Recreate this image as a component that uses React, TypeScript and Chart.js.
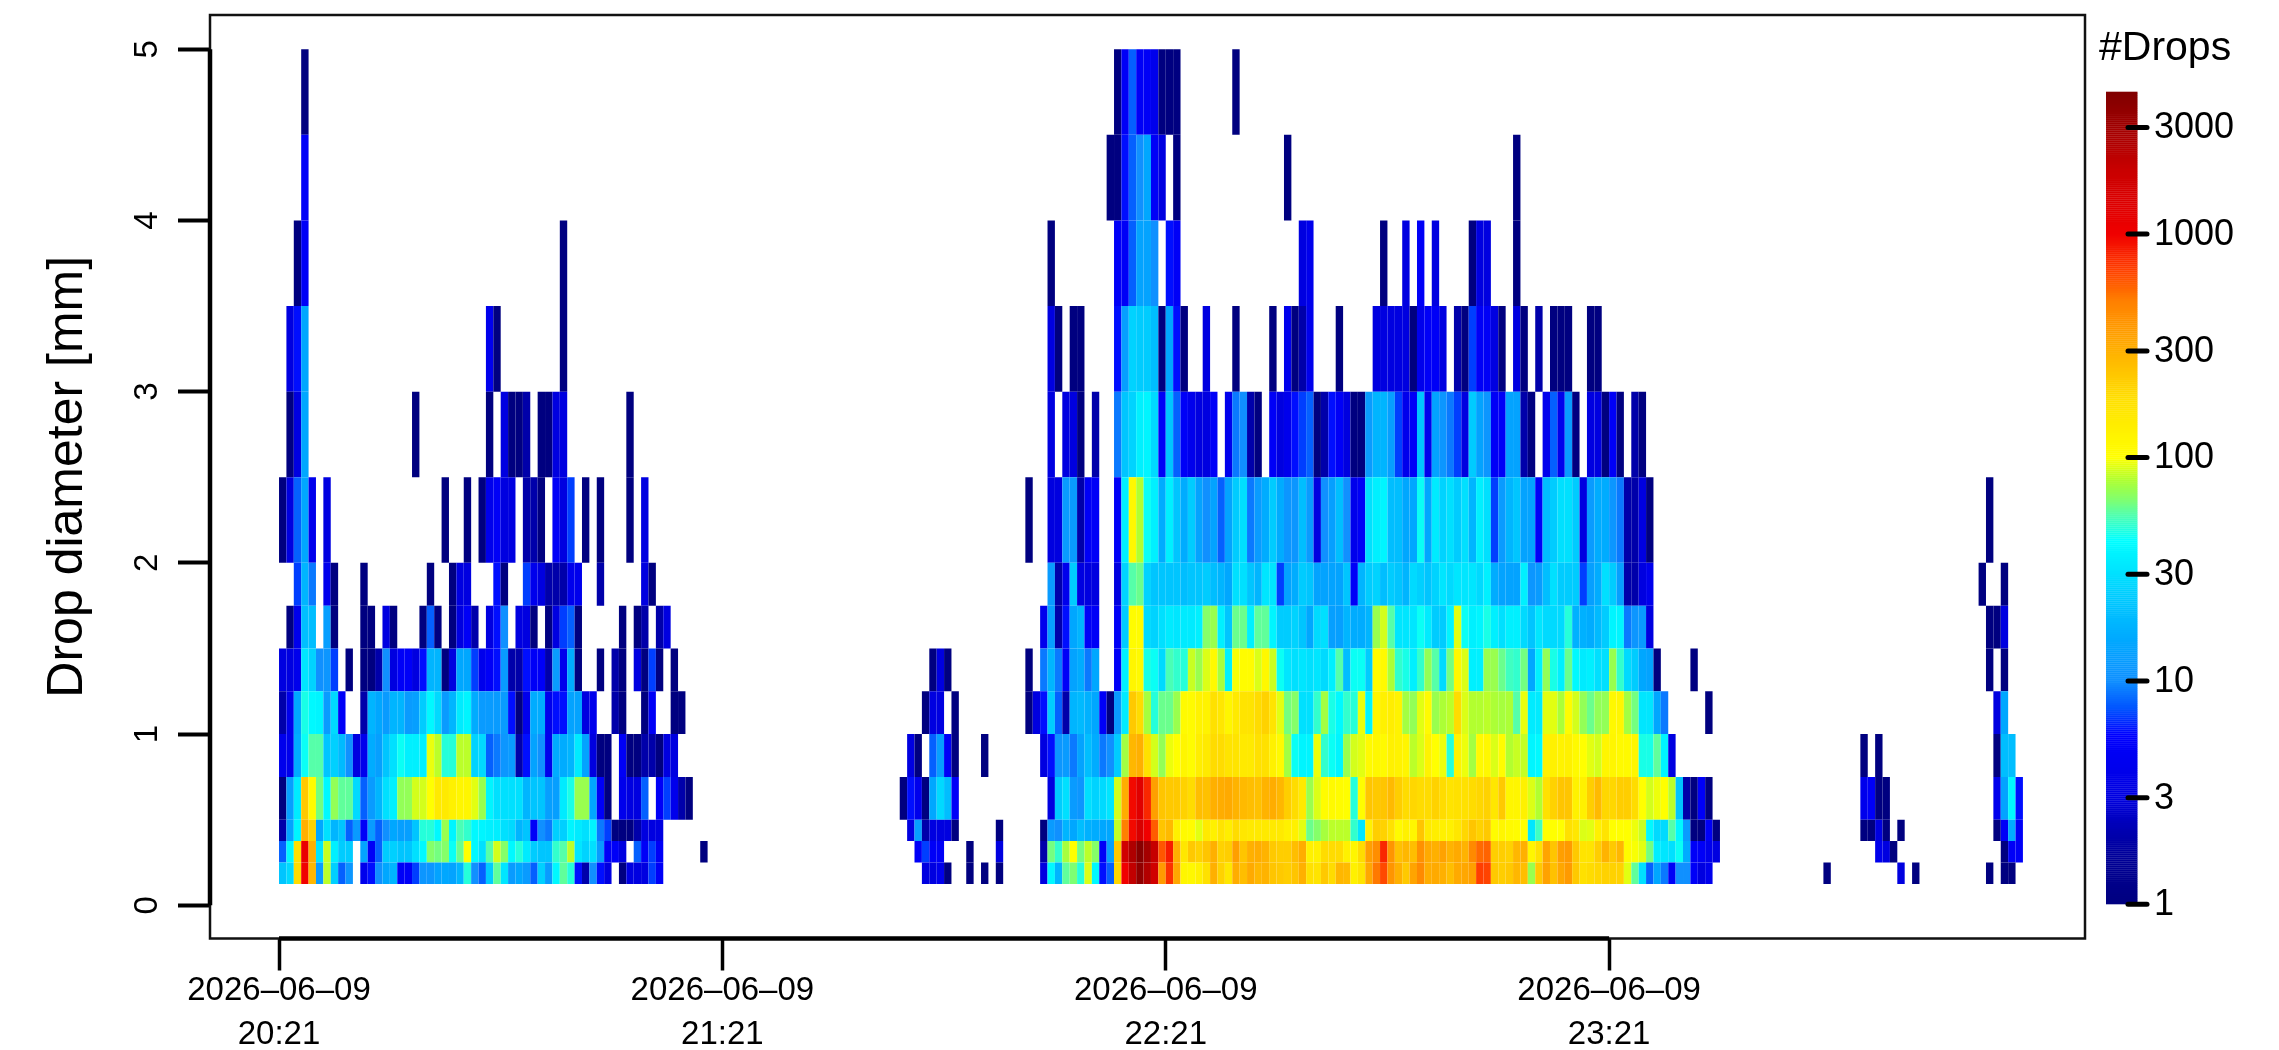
import React, { useEffect, useRef } from "react";
import { Chart, registerables } from "chart.js";

Chart.register(...registerables);

const FONT = '"Liberation Sans", Arial, sans-serif';

// Diameter class edges in mm (15 rows)
const diameterEdges = [0.125, 0.25, 0.375, 0.5, 0.75, 1, 1.25, 1.5, 1.75, 2, 2.5, 3, 3.5, 4, 4.5, 5];

// Drop counts per diameter class: [first minute after 20:21, counts per minute], 0 = no drops
const row0 = [
  [0, [22,28,190,1000,280,12,82,25,8,11,0,4,6,10,15,18,5,5,7,11,11,14,15,14,18,48,10,8,24,58,32,12,15,12,8,25,12,40,58,48,6,2,10,6,3,0,1,3,3,3,7,5]],
  [87, [3,3,4,1]], [93, [1,0,1,0,1]],
  [103, [3,40,18,58,64,48,90,40,6,8,200,1000,2100,3600,2500,1700,380,750,330,120,115,130,180,300,210,160,310,260,320,280,290,240,230,220,240,300,180,170,230,190,280,270,130,170]],
  [147, [330,520,660,400,300,230,340,450,310,320,300,260,320,330,360,700,680,230,220,230,280,260,72,230,350,250,330,380,230,180,190,200,210,210,210,92,58,30,8,15,9,5,10,10,5,3,4]],
  [209, [1]], [219, [3,0,1]], [231, [1,0,1,1]],
];
const row1 = [
  [0, [8,40,180,1100,300,32,85,36,24,24,0,14,5,8,24,25,22,22,30,40,66,62,66,44,60,100,40,30,56,88,66,40,48,34,24,22,22,50,56,82,32,26,30,12,5,5,3,0,8,5,7,5]],
  [57, [1]], [86, [5,7,5,5]], [93, [1]], [97, [3]],
  [103, [2,62,50,76,100,62,82,66,5,13,230,1700,2600,4000,2900,2000,620,850,300,160,230,210,240,300,210,220,360,240,300,310,290,230,220,220,260,310,130,130,190,190,190,130,120]],
  [146, [190,360,430,800,400,250,280,260,420,320,300,350,290,320,290,450,560,580,220,220,210,280,300,120,180,340,240,360,380,230,170,170,220,290,230,280,105,98,92,62,35,32,30,44,16,5,5,4,3]],
  [216, [4,3,1]], [233, [1,5,5]],
];
const row2 = [
  [0, [2,14,38,300,210,15,30,18,22,8,12,5,12,8,10,15,13,13,22,48,48,40,72,38,54,50,40,38,36,35,30,28,18,22,5,10,9,25,25,38,34,30,38,9,7,1,1,1,2,3,3,3]],
  [85, [3,13,2,3,3,3,1]], [97, [1]],
  [103, [1,12,10,18,15,20,17,16,15,15,84,500,950,1500,1000,600,240,270,130,110,105,92,150,130,170,140,190,160,150,150,150,150,150,130,130,92,60,66,76,82,82,82,50]],
  [146, [32,130,220,210,180,110,130,120,240,150,140,130,130,160,200,240,210,230,105,120,110,105,100,32,52,100,100,100,180,160,90,92,130,170,100,100,100,95,85,40,28,28,56,40,12,1,1,5,1]],
  [214, [1,1,3,1,0,1]], [232, [1,5,16,5]],
];
const row3 = [
  [0, [1,13,34,230,105,62,40,70,58,58,28,8,12,18,30,36,70,70,88,88,100,150,150,130,120,120,92,72,38,30,30,30,30,18,22,22,13,13,34,46,72,72,15,5,1,0,4,3,3,8,0,5,7,4,2,1]],
  [84, [1,6,4,1,15,28,20,5]],
  [104, [3,24,30,12,11,30,26,28,32,88,310,950,1300,800,360,240,230,230,210,190,260,250,300,310,320,290,270,260,250,290,310,280,220,190,150,72,90,105,110,105,102,48,105]],
  [147, [240,230,240,270,220,190,200,190,190,210,190,170,180,180,190,200,210,160,230,120,120,130,90,80,180,210,240,240,130,130,220,270,200,200,220,220,190,100,88,95,100,82,22,2,1,5,1]],
  [214, [4,5,1,1]], [232, [4,14,40,6]],
];
const row4 = [
  [0, [4,4,16,44,56,56,22,25,19,10,3,4,16,13,22,30,44,36,36,36,94,82,48,48,82,82,26,28,8,9,11,12,2,6,14,10,4,16,16,18,34,14,3,1,1,0,5,1,1,2,2,1,3,3]],
  [85, [3,1,0,8,13,5,1]], [95, [1]],
  [103, [3,6,11,12,9,14,20,16,9,10,24,75,280,300,180,88,70,95,100,120,105,140,150,190,190,170,170,150,150,180,180,130,110,75,44,38,38,95,50,44,38,72,88,92]],
  [147, [110,115,110,130,125,120,82,90,125,100,95,48,125,95,75,110,115,90,105,80,85,84,38,40,130,130,125,130,110,100,92,88,120,120,110,110,120,46,46,58,38,3]],
  [214, [1,0,1]], [232, [1,20,20]],
];
const row5 = [
  [0, [2,4,15,46,40,38,12,28,5,0,0,2,18,15,12,18,18,12,13,24,40,28,12,18,34,38,16,12,12,12,12,6,1,4,16,16,4,6,6,14,14,3,4,0,0,2,1,0,0,1,5,0,0,1,1]],
  [87, [1,3,3,0,1]],
  [101, [1,3,6,24,8,2,18,19,17,15,5,1,12,34,230,190,76,48,60,60,72,110,108,125,125,180,160,120,150,170,170,190,210,170,92,62,66,30,30,50,75,46,40,50,48,94]],
  [147, [38,120,130,140,125,75,70,92,108,72,78,82,190,90,80,80,82,78,76,78,56,94,34,34,92,92,78,105,88,70,60,70,70,115,120,75,62,32,32,15,9]],
  [193, [1]], [232, [3,15]],
];
const row6 = [
  [0, [3,3,4,32,26,10,11,7,0,1,0,1,1,2,10,3,5,5,3,6,18,18,1,3,15,15,7,4,5,6,12,2,2,6,5,5,2,12,4,16,1,0,0,1,0,2,1,0,3,1,7,1,0,1]],
  [88, [1,3,1]], [101, [1]],
  [103, [9,18,9,5,14,16,9,15,0,0,5,36,120,110,46,44,28,54,50,48,85,72,90,110,76,36,98,105,105,90,115,86,44,32,30,32,30,32,28,36,56,20,44,44]],
  [147, [24,105,110,78,50,46,36,50,70,56,28,62,115,90,36,36,72,72,60,52,50,62,15,36,70,46,36,60,40,34,36,30,30,72,50,28,24,15,14,1]],
  [191, [1]], [231, [1,0,1]],
];
const row7 = [
  [1, [1,4,20,20,0,13,1]], [11, [1,1,0,3,1]],
  [19, [1,8,1,0,1,3,5,2,0,3,6,10,0,3,3,1,0,1,3,7,8,1]],
  [46, [1,0,1,2,0,2,3]],
  [103, [4,13,2,6,15,18,5,5,0,0,5,24,105,105,28,26,30,34,32,34,34,36,66,72,36,22,60,60,36,58,58,38,24,24,26,22,15,28,30,13,13,18,16,16]],
  [147, [18,72,88,56,32,32,32,44,34,24,24,38,92,44,36,38,46,36,30,36,36,28,22,32,28,28,28,48,17,17,16,19,24,38,38,9,11,12,3]],
  [231, [1,1,3]],
];
const row8 = [
  [2, [7,18,9,0,4,1]], [11, [1]], [20, [1]], [23, [1,3,3]], [29, [6,1]], [33, [7,4,3,2,2,2,4,4]], [43, [2]], [49, [3,1]],
  [104, [12,2,4,24,3,3,3,0,0,3,26,56,60,26,22,22,22,22,20,22,22,24,20,18,15,30,30,22,18,32,32,7,14,16,24,22,14,14,14,14,22,5,18]],
  [147, [24,26,20,24,22,18,28,25,22,26,32,28,32,32,32,28,36,16,14,14,14,36,11,12,20,30,24,24,24,7,13,16,30,24,13,2,2,3,4]],
  [230, [1,0,0,1]],
];
const row9 = [
  [0, [1,3,8,15,4,0,3]],
  [22, [1,0,0,1,0,1,4,5,3,3,0,2,2,1,0,5,3,7,0,1,0,1]],
  [47, [1,0,3]], [101, [1]],
  [104, [3,3,12,12,2,5,5,0,0,5,36,115,80,44,36,16,36,22,16,24,14,10,14,8,14,24,30,9,12,16,24,16,11,11,20,12,3,10,13,20,10,4,5]],
  [147, [30,36,38,20,20,15,15,44,15,34,26,30,24,30,18,36,30,7,12,18,22,14,14,5,20,24,30,30,24,3,12,16,16,11,9,2,2,3,1]],
  [231, [1]],
];
const row10 = [
  [1, [1,3,15]], [18, [1]], [28, [1,0,3,1,1,2,0,1,1,3,3]], [47, [1]],
  [104, [3,0,3,3,1,0,2,0,0,9,22,26,36,38,28,5,22,8,5,4,3,3,5,0,4,9,10,2,1,0,5,3,4,6,7,8,1,2,6,5,3,1,1]],
  [147, [12,18,18,13,7,4,5,22,4,14,11,9,7,3,24,14,11,5,5,14,14,2,1,0,4,8,4,12,1,0,3,3,1,5,1,0,2,1]],
];
const row11 = [
  [1, [3,6,15]], [28, [4,1]], [38, [1]], [104, [3,1,0,1,1]],
  [113, [6,13,26,24,24,20,1,15,6,1]], [125, [3]], [129, [1]], [134, [1,0,4,1,2,4]], [143, [1]],
  [148, [3,3,3,3,3,1,4,5,5,3,0,2,1,7,5,5,3,1,0,3,1,0,2,0,1,1,1]], [177, [1,1]],
];
const row12 = [
  [2, [1,5]], [38, [1]], [104, [1]], [113, [5,5,8,14,14,10,0,6,5]], [138, [3,4]], [149, [1]], [152, [3,0,5,0,3]], [161, [1,3,3]], [167, [1]],
];
const row13 = [[3, [5]], [112, [1,1,6,8,10,15,5,3,0,1]], [136, [1]], [167, [1]]];
const row14 = [[3, [1]], [113, [1,5,8,5,5,4,1,1,1]], [129, [1]]];
const rows: any[] = [row0, row1, row2, row3, row4, row5, row6, row7, row8, row9, row10, row11, row12, row13, row14];

// Axes
const xTickMinutes = [0, 60, 120, 180];
const xTickDates = ["2026–06–09", "2026–06–09", "2026–06–09", "2026–06–09"];
const xTickTimes = ["20:21", "21:21", "22:21", "23:21"];
const yTicks = [0, 1, 2, 3, 4, 5];
const yTitle = "Drop diameter [mm]";
const legendTitle = "#Drops";
const legendTicks = [1, 3, 10, 30, 100, 300, 1000, 3000];
const legendMax = 4325;

// Colour map on log10(count)
const stopLog = [0, 0.2, 0.33, 0.477, 0.645, 0.758, 0.87, 1, 1.18, 1.36, 1.477, 1.63, 1.74, 1.81, 1.9, 2, 2.26, 2.477, 2.7, 2.84, 3, 3.29, 3.636];
const stopRGB = [
  [0,0,128],[0,0,150],[0,0,176],[0,0,224],[0,0,240],[0,0,255],[0,80,255],[16,144,255],[0,168,255],[0,200,255],[0,224,255],
  [0,255,255],[80,255,176],[128,255,112],[176,255,48],[255,255,0],[255,224,0],[255,176,0],[255,128,0],[255,64,0],[240,0,0],[200,0,0],[128,0,0],
];

function colorOf(v: number) {
  const l = Math.log10(Math.max(v, 1));
  let i = 0;
  while (i < stopLog.length - 2 && l > stopLog[i + 1]) i++;
  const t = Math.min(1, Math.max(0, (l - stopLog[i]) / (stopLog[i + 1] - stopLog[i])));
  const c = stopRGB[i].map((a, j) => Math.round(a + (stopRGB[i + 1][j] - a) * t));
  return `rgb(${c[0]},${c[1]},${c[2]})`;
}

const framePlugin = {
  id: "frame",
  afterDraw(chart: any) {
    const { ctx, chartArea: a, scales } = chart;
    ctx.save();
    ctx.strokeStyle = "#111";
    ctx.lineWidth = 2.5;
    ctx.strokeRect(a.left, a.top, a.right - a.left, a.bottom - a.top);
    ctx.strokeStyle = "#000";
    ctx.lineWidth = 4.5;
    ctx.beginPath();
    ctx.moveTo(a.left, scales.y.getPixelForValue(yTicks[0]));
    ctx.lineTo(a.left, scales.y.getPixelForValue(yTicks[yTicks.length - 1]));
    ctx.moveTo(scales.x.getPixelForValue(xTickMinutes[0]), a.bottom);
    ctx.lineTo(scales.x.getPixelForValue(xTickMinutes[xTickMinutes.length - 1]), a.bottom);
    ctx.stroke();

    // colour legend
    const left = 2106, right = 2137.5, yLow = 904.3, yHigh = 92;
    const logMax = Math.log10(legendMax);
    const toY = (v: number) => yLow - (Math.log10(v) / logMax) * (yLow - yHigh);
    const steps = 400;
    for (let i = 0; i < steps; i++) {
      const y0 = yLow - ((yLow - yHigh) * i) / steps;
      const h = (yLow - yHigh) / steps;
      ctx.fillStyle = colorOf(Math.pow(10, ((i + 0.5) / steps) * logMax));
      ctx.fillRect(left, y0 - h - 0.3, right - left, h + 0.3);
    }
    ctx.strokeStyle = "#000";
    ctx.lineWidth = 5;
    ctx.lineCap = "round";
    ctx.fillStyle = "#000";
    ctx.font = `36px ${FONT}`;
    ctx.textBaseline = "middle";
    ctx.textAlign = "left";
    for (const t of legendTicks) {
      const y = toY(t);
      ctx.beginPath();
      ctx.moveTo(2128, y);
      ctx.lineTo(2147, y);
      ctx.stroke();
      ctx.fillText(String(t), 2154, y + 1);
    }
    ctx.font = `41px ${FONT}`;
    ctx.textBaseline = "alphabetic";
    ctx.fillText(legendTitle, 2099, 60);
    ctx.restore();
  },
};

export default function App() {
  const ref = useRef<HTMLCanvasElement | null>(null);
  useEffect(() => {
    const datasets = rows.map((row: any[], r: number) => {
      const data: any[] = [];
      const colors: string[] = [];
      for (const [start, values] of row) {
        values.forEach((v: number, i: number) => {
          if (v > 0) {
            data.push({ x: start + i + 0.5, y: [diameterEdges[r], diameterEdges[r + 1]] });
            colors.push(colorOf(v));
          }
        });
      }
      return {
        label: `${diameterEdges[r]}–${diameterEdges[r + 1]} mm`,
        data,
        backgroundColor: colors,
        borderWidth: 0,
        inflateAmount: 0,
        barPercentage: 1,
        categoryPercentage: 1,
      };
    });
    const chart = new Chart(ref.current as HTMLCanvasElement, {
      type: "bar",
      data: { datasets } as any,
      options: {
        animation: false,
        responsive: false,
        devicePixelRatio: 1,
        layout: { padding: { top: 15, right: 194, left: 0, bottom: 0 } },
        plugins: { legend: { display: false }, tooltip: { enabled: false } },
        scales: {
          x: {
            type: "linear",
            stacked: true,
            offset: false,
            min: -9.34,
            max: 244.4,
            afterFit: (s: any) => {
              s.height = 1050 - 938.5;
              s.paddingLeft = 0;
              s.paddingRight = 0;
            },
            afterBuildTicks: (s: any) => { s.ticks = xTickMinutes.map((value) => ({ value })); },
            border: { display: false },
            grid: { offset: false, drawOnChartArea: false, drawTicks: true, tickLength: 32, tickWidth: 3.5, tickColor: "#000" },
            ticks: {
              autoSkip: false,
              maxRotation: 0,
              minRotation: 0,
              padding: -2,
              color: "#000",
              font: { family: FONT, size: 33, lineHeight: 44 / 33 },
              callback: (v: any) => {
                const i = xTickMinutes.indexOf(Number(v));
                return [xTickDates[i], xTickTimes[i]];
              },
            },
          },
          y: {
            type: "linear",
            stacked: false,
            min: -0.194,
            max: 5.2,
            afterFit: (s: any) => {
              s.width = 210;
              s.paddingTop = 0;
              s.paddingBottom = 0;
            },
            afterBuildTicks: (s: any) => { s.ticks = yTicks.map((value) => ({ value })); },
            border: { display: false },
            grid: { drawOnChartArea: false, drawTicks: true, tickLength: 32, tickWidth: 4, tickColor: "#000" },
            title: {
              display: true,
              text: yTitle,
              color: "#000",
              font: { family: FONT, size: 50, lineHeight: 1 },
              padding: { top: 43, bottom: 0 },
            },
            ticks: {
              minRotation: 90,
              maxRotation: 90,
              crossAlign: "center",
              padding: 21,
              color: "#000",
              font: { family: FONT, size: 33 },
              callback: (v: any) => String(v),
            },
          },
        },
      } as any,
      plugins: [framePlugin],
    });
    return () => chart.destroy();
  }, []);
  return (
    <canvas
      ref={ref}
      width={2279}
      height={1050}
      style={{ position: "fixed", left: 0, top: 0, width: 2279, height: 1050, display: "block" }}
    />
  );
}
